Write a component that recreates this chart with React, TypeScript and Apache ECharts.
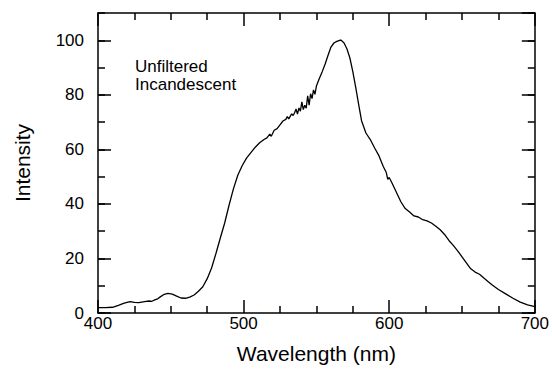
import React, { useEffect, useRef } from "react";
import * as echarts from "echarts";

const wavelengths = [
  400, 405, 410, 414, 418, 422, 425, 428, 432, 435, 437, 439, 441, 443, 445, 448, 451, 454, 457, 460,
  463, 466, 469, 472, 475, 478, 481, 484, 487, 490, 493, 496, 499, 502, 505, 508, 511, 514, 516, 518,
  519, 521, 523, 525, 527, 529, 530, 531, 533, 534, 535, 536, 537, 538, 539, 540, 541, 542, 543, 544,
  545, 546, 547, 548, 549, 550, 552, 554, 556, 558, 560, 562, 564, 566, 567, 569, 571, 573, 575, 577,
  579, 581, 584, 587, 590, 593, 596, 598, 599, 600, 602, 605, 608, 611, 614, 617, 620, 623, 626, 629,
  632, 635, 638, 641, 644, 647, 650, 653, 656, 659, 662, 665, 668, 671, 675, 680, 685, 690, 695, 700,
];

const intensities = [
  2.0, 2.0, 2.1, 2.8, 3.6, 4.2, 3.9, 3.8, 4.2, 4.4, 4.3, 4.8, 5.2, 6.0, 6.7, 7.2, 6.9, 6.2, 5.5, 5.4,
  5.8, 6.6, 8.0, 9.6, 12.6, 16.5, 21.8, 27.5, 33.0, 39.5, 45.5, 50.5, 54.0, 56.8, 58.8, 60.8, 62.4, 63.6, 64.2, 65.6,
  64.8, 67.0, 67.6, 69.0, 70.4, 71.0, 72.0, 71.2, 73.0, 72.4, 73.4, 74.8, 72.9, 75.2, 74.0, 77.4, 74.6, 76.2, 75.1, 79.6,
  76.2, 80.4, 78.6, 81.8, 80.2, 83.2, 86.0, 88.5, 91.3, 94.5, 97.5, 99.0, 99.6, 100.0, 100.0, 99.0, 96.8, 93.5, 88.5, 82.7,
  76.5, 70.5, 66.0, 63.6, 60.5, 57.6, 53.6, 51.5, 49.0, 49.7, 47.6, 44.2, 40.8, 38.3, 37.0, 35.6, 35.2, 34.2, 33.8, 33.0,
  31.8, 30.5, 28.8, 26.6, 24.8, 22.8, 20.6, 18.4, 16.2, 15.0, 14.2, 12.8, 11.5, 10.2, 8.6, 7.0, 5.4, 4.0, 3.0, 2.3,
];

const xRange = [400, 700];
const yRange = [0, 110];
const xTickStep = 100;
const yTickStep = 20;
const yMinorStep = 10;
const yLabelMax = 100;

const xTitle = "Wavelength (nm)";
const yTitle = "Intensity";
const annotation = "Unfiltered\nIncandescent";

const FONT = "Liberation Sans, Arial, sans-serif";

export default function App() {
  const ref = useRef<HTMLDivElement>(null);

  useEffect(() => {
    if (!ref.current) return;
    const chart = echarts.init(ref.current, undefined, { renderer: "svg" });
    const baseX = () => ({
      type: "value" as const,
      min: xRange[0],
      max: xRange[1],
      interval: xTickStep,
      splitLine: { show: false },
      axisLine: { show: true, onZero: false, lineStyle: { color: "#000", width: 1.5 } },
      axisTick: { show: true, inside: true, length: 13, lineStyle: { color: "#000", width: 1.5 } },
      minorTick: { show: true, splitNumber: 4, length: 7, lineStyle: { color: "#000", width: 1.5 } },
    });
    const baseY = (interval: number, len: number, showLine: boolean) => ({
      type: "value" as const,
      min: yRange[0],
      max: yRange[1],
      interval,
      splitLine: { show: false },
      axisLine: { show: showLine, onZero: false, lineStyle: { color: "#000", width: 1.5 } },
      axisTick: { show: true, inside: true, length: len, lineStyle: { color: "#000", width: 1.5 } },
    });
    chart.setOption({
      animation: false,
      backgroundColor: "#fff",
      grid: { left: 98, right: 16, top: 13, bottom: 49 },
      xAxis: [
        {
          ...baseX(),
          position: "bottom",
          name: xTitle,
          nameLocation: "middle",
          nameGap: 30,
          nameTextStyle: { color: "#000", fontSize: 21, fontFamily: FONT },
          axisLabel: { color: "#000", fontSize: 17, fontFamily: FONT, margin: 2 },
        },
        { ...baseX(), position: "top", axisLabel: { show: false } },
      ],
      yAxis: [
        {
          ...baseY(yTickStep, 13, true),
          position: "left",
          name: yTitle,
          nameLocation: "middle",
          nameGap: 65,
          nameTextStyle: { color: "#000", fontSize: 21, fontFamily: FONT },
          axisLabel: {
            color: "#000",
            fontSize: 17,
            fontFamily: FONT,
            margin: 14,
            showMaxLabel: false,
            formatter: (v: number) => (v > yLabelMax ? "" : String(v)),
          },
        },
        { ...baseY(yMinorStep, 7, false), position: "left", axisLabel: { show: false } },
        { ...baseY(yTickStep, 13, true), position: "right", axisLabel: { show: false } },
        { ...baseY(yMinorStep, 7, false), position: "right", axisLabel: { show: false } },
      ],
      graphic: [
        {
          type: "text",
          left: 135,
          top: 57,
          style: {
            text: annotation,
            fill: "#000",
            font: `17px ${FONT}`,
            lineHeight: 18,
          },
        },
      ],
      series: [
        {
          type: "line",
          xAxisIndex: 0,
          yAxisIndex: 0,
          data: wavelengths.map((w, i) => [w, intensities[i]]),
          showSymbol: false,
          smooth: false,
          lineStyle: { color: "#000", width: 1.3 },
        },
      ],
    });
    return () => chart.dispose();
  }, []);

  return (
    <div
      ref={ref}
      style={{ position: "fixed", left: 0, top: 0, width: 552, height: 369 }}
    />
  );
}
